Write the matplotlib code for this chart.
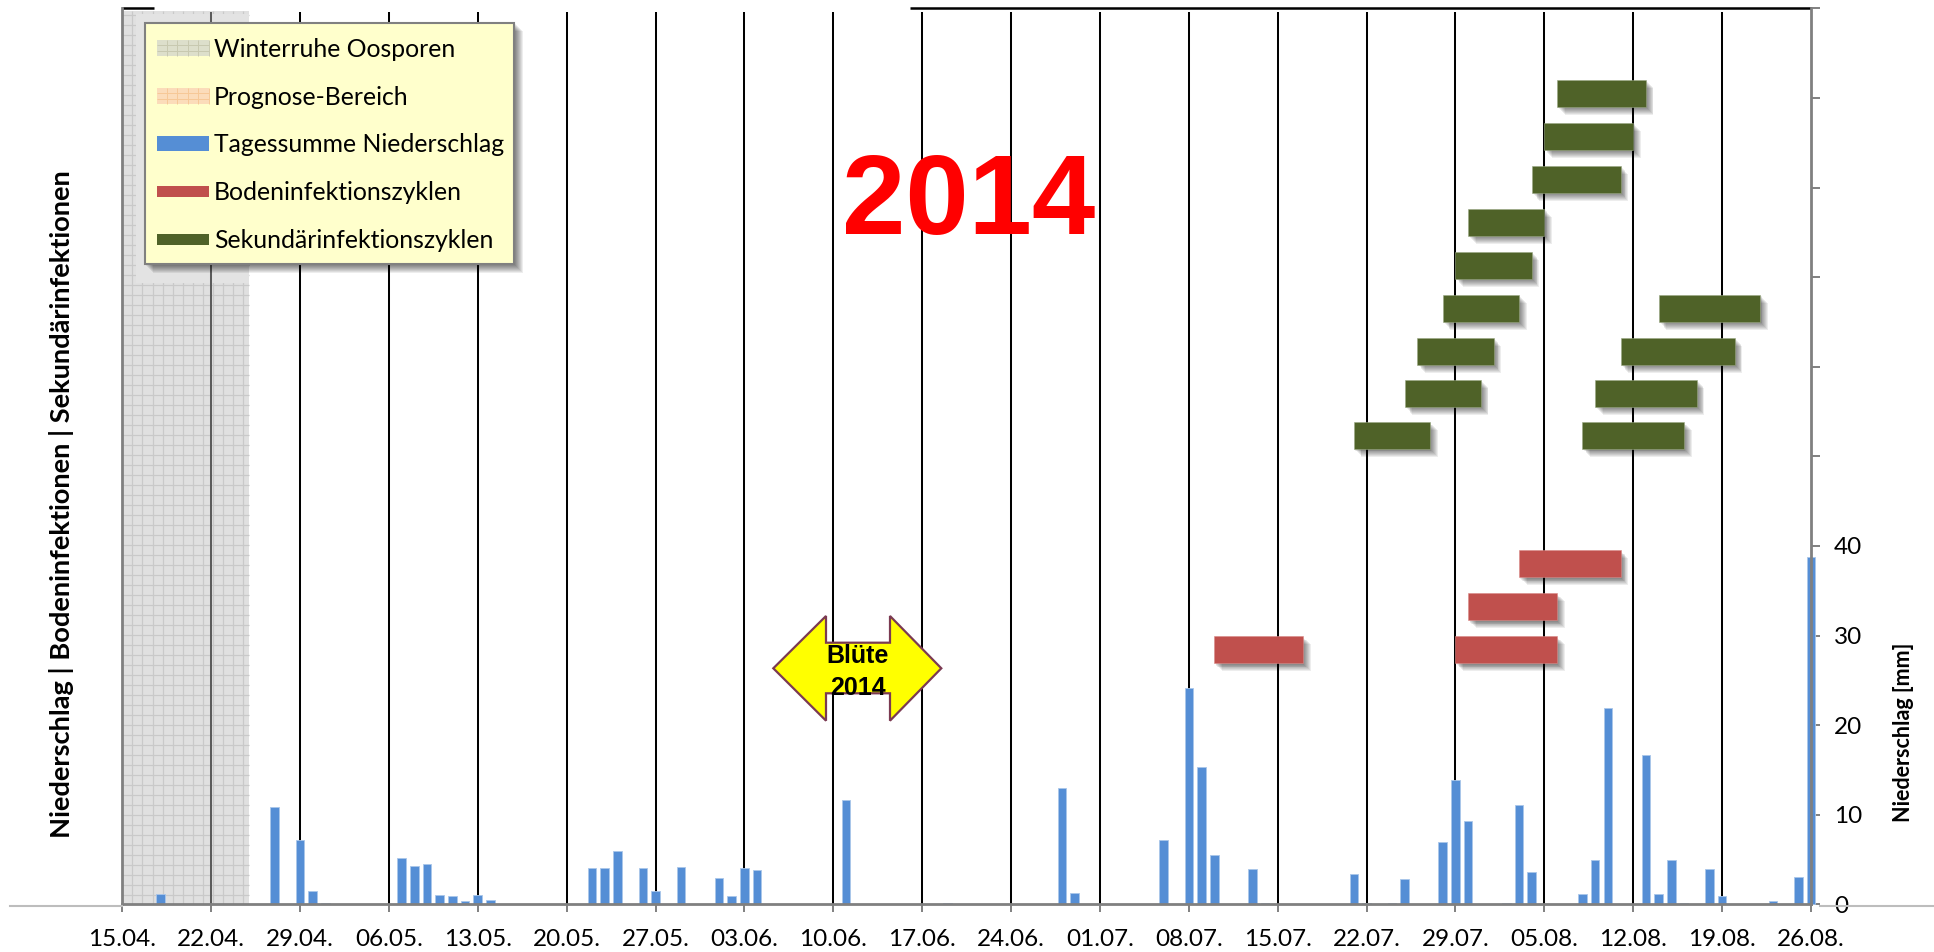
import matplotlib
matplotlib.use("Agg")
import matplotlib.pyplot as plt
import matplotlib.patheffects as pe
from matplotlib.patches import Rectangle, Polygon
import numpy as np

plt.rcParams['font.family'] = ['Lato', 'DejaVu Sans']

# tage seit dem 15.04. und tagessumme niederschlag in mm
regen_tag = [3, 12, 14, 15, 16, 22, 23, 24, 25, 26, 27, 28, 29, 37, 38, 39, 41, 42, 44,
             47, 48, 49, 50, 57, 65, 66, 74, 75, 76, 82, 84, 85, 86, 87, 89, 90,
             97, 98, 100, 101, 102, 104, 105, 106, 109, 110, 111, 114, 115, 116, 117,
             120, 121, 122, 123, 125, 126, 130, 131, 132, 133]
regen_mm = [1.2, 10.9, 7.2, 1.5, 0.2, 5.2, 4.3, 4.5, 1.1, 0.9, 0.4, 1.1, 0.5, 4.1, 4.1, 6.0, 4.1, 1.5, 4.2,
            2.9, 0.9, 4.1, 3.8, 11.6, 0.2, 0.05, 13.0, 1.3, 0.03, 7.2, 24.2, 15.3, 5.5, 0.03, 4.0, 0.2,
            3.4, 0.2, 0.2, 2.8, 0.05, 7.0, 13.9, 9.3, 0.2, 11.1, 3.6, 0.05, 1.2, 5.0, 21.9,
            16.7, 1.2, 5.0, 0.2, 4.0, 0.9, 0.4, 0.05, 3.1, 38.8]

boden_start = [110, 106, 105, 86]
boden_ende = [118, 113, 113, 93]
boden_y = [38.0, 33.2, 28.4, 28.4]

sek_start = [113, 112, 111, 106, 105, 104, 121, 102, 118, 101, 116, 97, 115]
sek_ende = [120, 119, 118, 112, 111, 110, 129, 108, 127, 107, 124, 103, 123]
sek_y = [90.5, 85.7, 80.9, 76.1, 71.3, 66.5, 66.5, 61.7, 61.7, 57.0, 57.0, 52.3, 52.3]

wochen_tag = list(range(0, 134, 7))
wochen_label = ['15.04.', '22.04.', '29.04.', '06.05.', '13.05.', '20.05.', '27.05.', '03.06.',
                '10.06.', '17.06.', '24.06.', '01.07.', '08.07.', '15.07.', '22.07.', '29.07.',
                '05.08.', '12.08.', '19.08.', '26.08.']
mm_ticks = list(range(0, 101, 10))
mm_label = ['0', '10', '20', '30', '40', '', '', '', '', '', '']

legende_text = ['Winterruhe Oosporen', 'Prognose-Bereich', 'Tagessumme Niederschlag',
                'Bodeninfektionszyklen', 'Sekundärinfektionszyklen']
legende_farbe = ['#dddfcb', '#fbdcba', '#558ed5', '#c0504d', '#4f6228']
legende_hoehe = [16, 16, 15, 11, 11]
legende_y = [47.7, 96, 143.3, 191, 239]

ROT = '#c0504d'
GRUEN = '#4f6228'
BLAU = '#558ed5'
GRAU = '#808080'


def schatten(d=3.2):
    # weicher schatten, mehrere lagen uebereinander
    lagen = []
    for f in [1.7, 1.5, 1.3, 1.1, 0.9, 0.7, 0.5, 0.3]:
        lagen.append(pe.SimplePatchShadow(offset=(d * f, -d * f), shadow_rgbFace='black', alpha=0.07))
    lagen.append(pe.Normal())
    return lagen


W, H = 1934, 952
fig = plt.figure(figsize=(W / 100, H / 100), dpi=100)
ax = fig.add_axes([122.3 / W, (H - 904.4) / H, (1811 - 122.3) / W, (904.4 - 8.4) / H])
ax.set_xlim(0, 133)
ax.set_ylim(0, 100)

# winterruhe: graue flaeche mit feinem raster
ax.add_patch(Rectangle((0, 0), 10, 99.7, facecolor='#e0e0e0', edgecolor='none', zorder=1))
ax.vlines(np.arange(0.8, 10, 0.79), 0, 99.7, color='#c9c9c9', lw=0.9, zorder=1.1)
ax.hlines(np.arange(1.1, 99.7, 1.116), 0, 10, color='#c9c9c9', lw=0.9, zorder=1.1)
# oberer teil ohne raster
ax.add_patch(Rectangle((1.1, 69.4), 8.9, 30.0, facecolor='#e3e3e3', edgecolor='none', zorder=1.2))

for t in wochen_tag[1:-1]:
    farbe = '#5c5c5c' if t == 7 else 'black'
    ax.vlines(t, 0, 99.6, color=farbe, lw=1.45, zorder=2)
ax.hlines(100, 62, 133, color='black', lw=1.8, zorder=2, clip_on=False)
ax.hlines(100, 0, 2.5, color='black', lw=1.8, zorder=2, clip_on=False)

ax.bar(regen_tag, regen_mm, width=0.68, color=BLAU, edgecolor='#a9c6ea', linewidth=0.6,
       zorder=3, clip_on=False)

for s, e, y in zip(boden_start, boden_ende, boden_y):
    b = ax.barh(y, e - s, left=s, height=3.02, color=ROT, edgecolor='#d98a88', linewidth=0.4, zorder=4)
    b[0].set_path_effects(schatten())
for s, e, y in zip(sek_start, sek_ende, sek_y):
    b = ax.barh(y, e - s, left=s, height=3.0, color=GRUEN, edgecolor='#9aa884', linewidth=0.4, zorder=4)
    b[0].set_path_effects(schatten())

ax.set_xticks(wochen_tag)
ax.set_xticklabels(wochen_label, fontsize=17.5, color='black')
ax.set_yticks(mm_ticks)
ax.set_yticklabels(mm_label, fontsize=17.5, color='black')
ax.yaxis.tick_right()
ax.tick_params(axis='x', length=6, width=1.4, color=GRAU, pad=12)
ax.tick_params(axis='y', length=6.5, width=1.4, color=GRAU, pad=10)
ax.spines['top'].set_visible(False)
for seite in ['left', 'right', 'bottom']:
    ax.spines[seite].set_color(GRAU)
    ax.spines[seite].set_linewidth(2.0)
    ax.spines[seite].set_zorder(5)
ax.patch.set_alpha(0)

# obere ebene in pixeln fuer legende, pfeil und texte
ov = fig.add_axes([0, 0, 1, 1], zorder=10)
ov.set_xlim(0, W)
ov.set_ylim(H, 0)
ov.axis('off')

ov.plot([10, 122], [906, 906], color='#bdbdbd', lw=1.5, zorder=1)
ov.plot([1820, 1934], [906, 906], color='#bdbdbd', lw=1.5, zorder=1)

box = Rectangle((144.7, 22.7), 369.3, 241.3, facecolor='#ffffcc', edgecolor=GRAU, linewidth=1.5, zorder=2)
box.set_path_effects(schatten(3.6))
ov.add_patch(box)
for i in range(len(legende_text)):
    ov.add_patch(Rectangle((157, legende_y[i] - legende_hoehe[i] / 2), 52, legende_hoehe[i],
                           facecolor=legende_farbe[i], edgecolor='none', zorder=3))
    if i < 2:
        linie = '#c8c9b0' if i == 0 else '#f6c896'
        ov.vlines(np.arange(167, 209, 10.4), legende_y[i] - legende_hoehe[i] / 2,
                  legende_y[i] + legende_hoehe[i] / 2, color=linie, lw=0.7, zorder=3.1)
        ov.hlines([legende_y[i] - 3, legende_y[i] + 3], 157, 209, color=linie, lw=0.7, zorder=3.1)
    ov.text(214, legende_y[i] + 1.5, legende_text[i], fontsize=17.8, color='black', va='center', ha='left', zorder=4)

pfeil = [(773.3, 668.3), (826, 616), (826, 642.7), (890, 642.7), (890, 616), (941.3, 668.3),
         (890, 720.7), (890, 693.3), (826, 693.3), (826, 720.7)]
ov.add_patch(Polygon(pfeil, closed=True, facecolor='#ffff00', edgecolor='#7b3a52', linewidth=1.6, zorder=2))
ov.text(858, 656, 'Blüte', family='Liberation Sans', fontweight='bold', fontsize=18, ha='center', va='center', zorder=3)
ov.text(858, 688, '2014', family='Liberation Sans', fontweight='bold', fontsize=18, ha='center', va='center', zorder=3)

ov.text(969, 205, '2014', family='Liberation Sans', fontweight='bold', fontsize=82, color='#ff0000',
        ha='center', va='center', zorder=3)

ov.text(62, 504, 'Niederschlag | Bodeninfektionen | Sekundärinfektionen', fontweight='bold', fontsize=19.6,
        rotation=90, ha='center', va='center')
ov.text(1903, 732, 'Niederschlag [mm]', fontweight='bold', fontsize=15.5, rotation=90, ha='center', va='center')

fig.savefig('out.png', dpi=100)
